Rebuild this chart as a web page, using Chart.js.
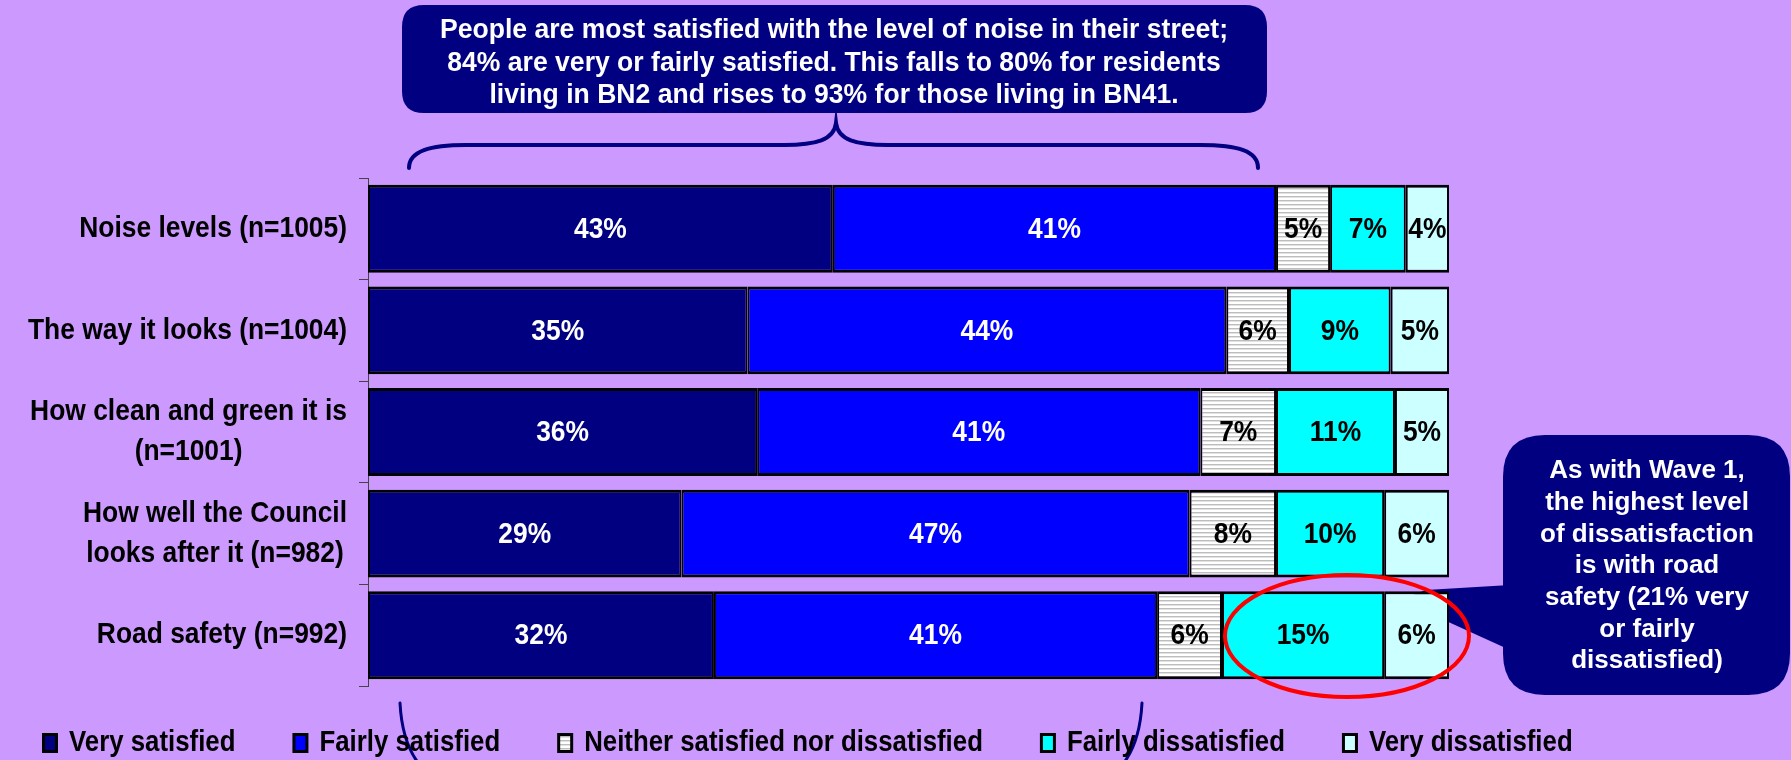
<!DOCTYPE html>
<html lang="en">
<head>
  <meta charset="UTF-8">
  <title>Satisfaction with the street</title>
  <script src="https://cdn.jsdelivr.net/npm/chart.js"></script>
  <style>
    html, body {
      margin: 0;
      padding: 0;
      background-color: #cc99ff;
    }
    canvas {
      display: block;
    }
  </style>
</head>
<body>
  <canvas id="satisfactionChart" width="1791" height="760"></canvas>

  <script>
    // categories, one array of lines per bar
    var categories = [
      ['Noise levels (n=1005)'],
      ['The way it looks (n=1004)'],
      ['How clean and green it is', '(n=1001)'],
      ['How well the Council', 'looks after it (n=982)'],
      ['Road safety (n=992)']
    ];
    var seriesLabels = ['Very satisfied', 'Fairly satisfied', 'Neither satisfied nor dissatisfied', 'Fairly dissatisfied', 'Very dissatisfied'];

    // % of respondents
    var verySatisfied = [43, 35.1, 36, 29, 32];
    var fairlySatisfied = [41, 44.3, 41, 47, 41];
    var neitherNor = [5, 5.8, 7, 8, 6];
    var fairlyDissatisfied = [7, 9.4, 11, 10, 15];
    var veryDissatisfied = [4, 5.4, 5, 6, 6];

    var topNote = [
      'People are most satisfied with the level of noise in their street;',
      '84% are very or fairly satisfied. This falls to 80% for residents',
      'living in BN2 and rises to 93% for those living in BN41.'
    ];
    var sideNote = ['As with Wave 1,', 'the highest level', 'of dissatisfaction', 'is with road', 'safety (21% very', 'or fairly', 'dissatisfied)'];

    var seriesValues = [verySatisfied, fairlySatisfied, neitherNor, fairlyDissatisfied, veryDissatisfied];
    var seriesColors = ['#000080', '#0000ff', null, '#00ffff', '#ccffff'];
    var labelColors = ['#ffffff', '#ffffff', '#000000', '#000000', '#000000'];

    var FONT = "'Liberation Sans', Arial, sans-serif";
    var SQUEEZE = 0.88;
    var NAVY = '#000080';

    function stripePattern() {
      var c = document.createElement('canvas');
      c.width = 4;
      c.height = 4;
      var g = c.getContext('2d');
      g.fillStyle = '#ffffff';
      g.fillRect(0, 0, 4, 4);
      g.fillStyle = '#bdbdbd';
      g.fillRect(0, 0, 4, 1);
      g.fillStyle = '#e2e2e2';
      g.fillRect(0, 1, 4, 1);
      return g.createPattern(c, 'repeat');
    }
    var stripes = stripePattern();

    // text drawn a little narrower, like the original export
    function squeezed(ctx, text, x, y, size, color, align, sx) {
      ctx.save();
      ctx.font = 'bold ' + size + 'px ' + FONT;
      ctx.fillStyle = color;
      ctx.textAlign = align || 'center';
      ctx.textBaseline = 'middle';
      ctx.translate(x, y);
      ctx.scale(sx || SQUEEZE, 1);
      ctx.fillText(text, 0, 0);
      ctx.restore();
    }

    function roundBox(ctx, x, y, w, h, r) {
      ctx.beginPath();
      ctx.moveTo(x + r, y);
      ctx.lineTo(x + w - r, y);
      ctx.quadraticCurveTo(x + w, y, x + w, y + r);
      ctx.lineTo(x + w, y + h - r);
      ctx.quadraticCurveTo(x + w, y + h, x + w - r, y + h);
      ctx.lineTo(x + r, y + h);
      ctx.quadraticCurveTo(x, y + h, x, y + h - r);
      ctx.lineTo(x, y + r);
      ctx.quadraticCurveTo(x, y, x + r, y);
      ctx.closePath();
    }

    var barLabels = {
      id: 'barLabels',
      afterDatasetsDraw: function (chart) {
        var ctx = chart.ctx;
        chart.data.datasets.forEach(function (ds, i) {
          chart.getDatasetMeta(i).data.forEach(function (bar, j) {
            var text = Math.round(ds.data[j]) + '%';
            squeezed(ctx, text, (bar.x + bar.base) / 2, bar.y + 1, 30, labelColors[i]);
          });
        });
      }
    };

    var categoryLabels = {
      id: 'categoryLabels',
      afterDraw: function (chart) {
        var ctx = chart.ctx;
        var scale = chart.scales.y;
        var right = scale.right - 21;
        ctx.save();
        ctx.font = 'bold 30px ' + FONT;
        categories.forEach(function (lines, i) {
          var mid = scale.getPixelForValue(i);
          var widest = 0;
          lines.forEach(function (t) {
            widest = Math.max(widest, ctx.measureText(t).width * SQUEEZE);
          });
          lines.forEach(function (t, k) {
            var y = mid + (k - (lines.length - 1) / 2) * 40;
            squeezed(ctx, t, right - widest / 2, y, 30, '#000000');
          });
        });
        ctx.restore();
      }
    };

    // callouts sit behind the bars, so the pointer tucks under the last bar
    var callouts = {
      id: 'callouts',
      beforeDatasetsDraw: function (chart) {
        var ctx = chart.ctx;
        ctx.save();

        roundBox(ctx, 402, 5, 865, 108, 22);
        ctx.fillStyle = NAVY;
        ctx.fill();
        ctx.font = 'bold 27px ' + FONT;
        var fit = 788 / ctx.measureText(topNote[0]).width;
        topNote.forEach(function (t, k) {
          squeezed(ctx, t, 834, 31 + k * 32.5, 27, '#ffffff', 'center', fit);
        });

        ctx.fillStyle = NAVY;
        ctx.beginPath();
        ctx.moveTo(1510, 585);
        ctx.lineTo(1426, 590);
        ctx.lineTo(1400, 600);
        ctx.lineTo(1510, 650);
        ctx.closePath();
        ctx.fill();
        roundBox(ctx, 1503, 435, 287, 260, 42);
        ctx.fill();
        sideNote.forEach(function (t, k) {
          squeezed(ctx, t, 1647, 471 + k * 31.7, 26, '#ffffff', 'center', 1);
        });

        ctx.restore();
      }
    };

    var notes = {
      id: 'notes',
      afterDraw: function (chart) {
        var ctx = chart.ctx;
        ctx.save();

        // brace over the satisfied part of the first bar
        ctx.strokeStyle = NAVY;
        ctx.lineWidth = 4;
        ctx.lineCap = 'round';
        ctx.beginPath();
        ctx.moveTo(409, 168);
        ctx.bezierCurveTo(409, 151, 430, 145, 466, 145);
        ctx.lineTo(784, 145);
        ctx.bezierCurveTo(816, 145, 834, 140, 836, 123);
        ctx.bezierCurveTo(838, 140, 856, 145, 888, 145);
        ctx.lineTo(1200, 145);
        ctx.bezierCurveTo(1238, 145, 1258, 151, 1258, 168);
        ctx.stroke();

        // ends of the brace under the last bar
        ctx.lineWidth = 3;
        ctx.beginPath();
        ctx.moveTo(400, 703);
        ctx.quadraticCurveTo(402, 742, 419, 764);
        ctx.moveTo(1142, 703);
        ctx.quadraticCurveTo(1140, 742, 1123, 764);
        ctx.stroke();

        // red ring round the road safety dissatisfaction
        ctx.strokeStyle = '#ff0000';
        ctx.lineWidth = 4;
        ctx.beginPath();
        ctx.ellipse(1347, 636, 122, 61, 0, 0, Math.PI * 2);
        ctx.stroke();

        // legend
        var x = 42;
        chart.data.datasets.forEach(function (ds, i) {
          ctx.fillStyle = '#000000';
          ctx.fillRect(x, 733, 16, 20);
          ctx.fillStyle = ds.backgroundColor;
          ctx.fillRect(x + 3, 736, 10, 14);
          ctx.font = 'bold 29px ' + FONT;
          var w = ctx.measureText(ds.label).width * 0.89;
          squeezed(ctx, ds.label, x + 27, 743, 29, '#000000', 'left', 0.89);
          x += 27 + w + 57;
        });

        ctx.restore();
      }
    };

    var datasets = seriesLabels.map(function (name, i) {
      return {
        label: name,
        data: seriesValues[i],
        backgroundColor: seriesColors[i] || stripes,
        borderColor: '#000000',
        borderWidth: { top: 3, bottom: 3, left: 2, right: 2 },
        borderSkipped: false,
        barPercentage: 0.865,
        categoryPercentage: 1
      };
    });

    var ctx = document.getElementById('satisfactionChart').getContext('2d');
    var satisfactionChart = new Chart(ctx, {
      type: 'bar',
      data: {
        labels: categories.map(function (c) { return c.join(' '); }),
        datasets: datasets
      },
      options: {
        indexAxis: 'y',
        responsive: false,
        animation: false,
        layout: {
          padding: { top: 178, bottom: 74, left: 0, right: 342 }
        },
        scales: {
          x: {
            stacked: true,
            min: 0,
            max: 100,
            display: false
          },
          y: {
            stacked: true,
            grid: {
              offset: true,
              drawOnChartArea: false,
              drawTicks: true,
              tickLength: 9,
              color: '#444444'
            },
            border: { display: true, color: '#444444', width: 1 },
            ticks: { display: false },
            afterFit: function (scale) {
              scale.width = 368;
            }
          }
        },
        plugins: {
          legend: { display: false },
          tooltip: { enabled: false }
        }
      },
      plugins: [callouts, barLabels, categoryLabels, notes]
    });
  </script>
</body>
</html>
